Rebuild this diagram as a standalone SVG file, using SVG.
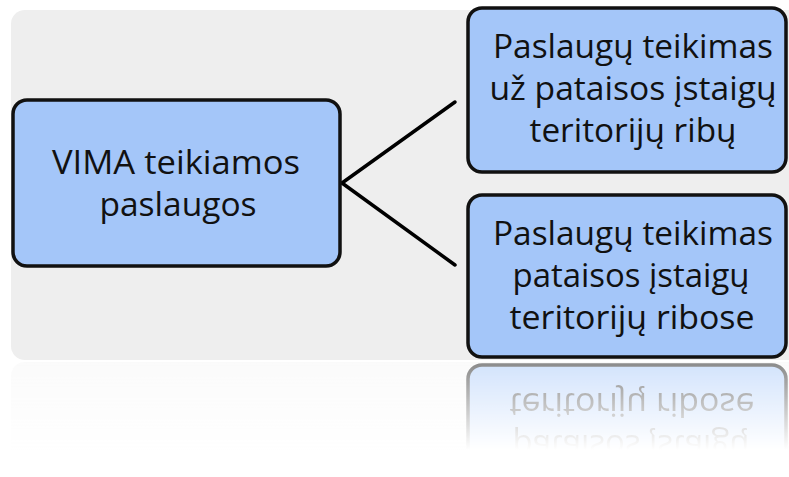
<svg xmlns="http://www.w3.org/2000/svg" xmlns:xlink="http://www.w3.org/1999/xlink" width="789" height="477" viewBox="0 0 789 477">
<defs>
<style>
.panel{fill:#eeeeee}
.box{fill:#a4c6f9;stroke:#111111;stroke-width:3.5}
.lbl{font-family:"Open Sans","Noto Sans","Liberation Sans",sans-serif;font-size:33px;fill:#111111;text-anchor:middle}
.conn{stroke:#000000;stroke-width:3.5;fill:none;stroke-linecap:round}
</style>
<linearGradient id="fade" gradientUnits="userSpaceOnUse" x1="0" y1="361" x2="0" y2="450">
<stop offset="0" stop-color="#ffffff" stop-opacity="0.5"/>
<stop offset="1" stop-color="#ffffff" stop-opacity="0"/>
</linearGradient>
<mask id="reflMask" maskUnits="userSpaceOnUse" x="0" y="361" width="789" height="116">
<rect x="0" y="361" width="789" height="116" fill="url(#fade)"/>
</mask>
</defs>
<rect width="789" height="477" fill="#ffffff"/>
<rect id="panel" class="panel" x="11" y="10" width="800" height="350" rx="14"/>
<g id="reflection" mask="url(#reflMask)">
<g transform="matrix(1,0,0,-1,0,722)">
<use xlink:href="#panel" opacity="0.5"/>
<use xlink:href="#n3"/>
</g>
</g>
<g id="connectors">
<line class="conn" x1="342" y1="183" x2="455" y2="102"/>
<line class="conn" x1="342" y1="183" x2="455" y2="265"/>
</g>
<g id="n1">
<rect class="box" x="13" y="100" width="327" height="166" rx="14"/>
<text class="lbl" x="176" y="174" textLength="248" lengthAdjust="spacingAndGlyphs">VIMA teikiamos</text>
<text class="lbl" x="178" y="216" textLength="157" lengthAdjust="spacingAndGlyphs">paslaugos</text>
</g>
<g id="n2">
<rect class="box" x="468" y="8" width="318" height="164" rx="14"/>
<text class="lbl" x="633" y="58" textLength="280" lengthAdjust="spacingAndGlyphs">Paslaugų teikimas</text>
<text class="lbl" x="633" y="100" textLength="287" lengthAdjust="spacingAndGlyphs">už pataisos įstaigų</text>
<text class="lbl" x="633" y="142" textLength="207" lengthAdjust="spacingAndGlyphs">teritorijų ribų</text>
</g>
<g id="n3">
<rect class="box" x="468" y="195" width="318" height="162" rx="14"/>
<text class="lbl" x="633" y="245" textLength="280" lengthAdjust="spacingAndGlyphs">Paslaugų teikimas</text>
<text class="lbl" x="631" y="287" textLength="237" lengthAdjust="spacingAndGlyphs">pataisos įstaigų</text>
<text class="lbl" x="632" y="329" textLength="245" lengthAdjust="spacingAndGlyphs">teritorijų ribose</text>
</g>
</svg>
